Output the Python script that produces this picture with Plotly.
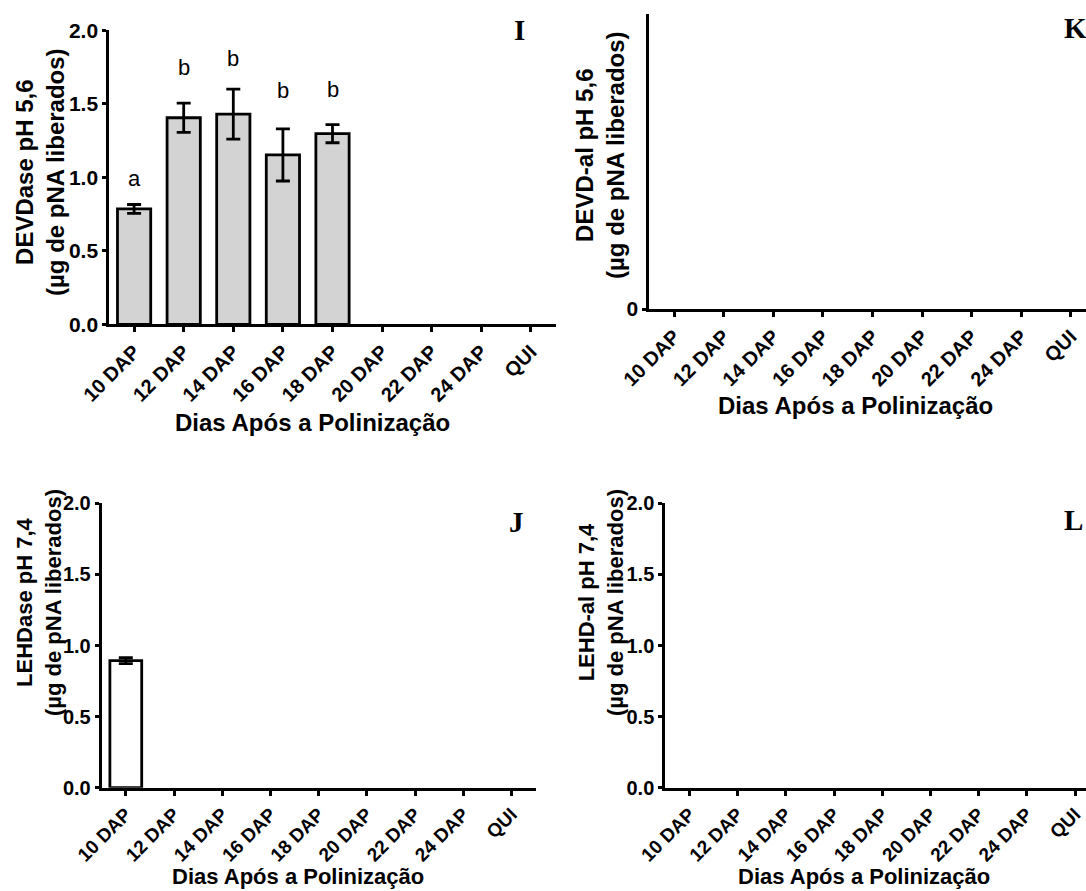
import plotly.graph_objects as go

# ---------------- data ----------------
categories = ["10 DAP", "12 DAP", "14 DAP", "16 DAP", "18 DAP", "20 DAP", "22 DAP", "24 DAP", "QUI"]

devdase_mean = [0.785, 1.405, 1.43, 1.152, 1.297, None, None, None, None]
devdase_sem = [0.03, 0.10, 0.17, 0.177, 0.062, None, None, None, None]
devdase_letters = ["a", "b", "b", "b", "b"]
devdase_letter_y = [0.99, 1.75, 1.81, 1.59, 1.60]

lehdase_mean = [0.893, None, None, None, None, None, None, None, None]
lehdase_sem = [0.021, None, None, None, None, None, None, None, None]

y_ticks_ab = [0.0, 0.5, 1.0, 1.5, 2.0]
y_ticks_k = [0]

panel_letters = ["I", "K", "J", "L"]
ytitles = ["DEVDase pH 5,6<br>(µg de pNA liberados)",
           "DEVD-al pH 5,6<br>(µg de pNA liberados)",
           "LEHDase pH 7,4<br>(µg de pNA liberados)",
           "LEHD-al pH 7,4<br>(µg de pNA liberados)"]
xtitle = "Dias Após a Polinização"

# ---------------- layout helpers ----------------
W, H = 1086, 891
def fx(p):
    return p / W
def fy(p):
    return 1 - p / H

idx = list(range(len(categories)))
FONT = "Arial, Liberation Sans, sans-serif"
SERIF = "Times New Roman, Liberation Serif, serif"

fig = go.Figure()

# Panel I bars
fig.add_trace(go.Bar(
    x=idx, y=devdase_mean, width=0.67,
    marker=dict(color="#d3d3d3", line=dict(color="black", width=2.8)),
    error_y=dict(type="data", array=devdase_sem, color="black", thickness=2.8, width=7),
    xaxis="x", yaxis="y", showlegend=False, hoverinfo="skip"))

# Panel J bars
fig.add_trace(go.Bar(
    x=idx, y=lehdase_mean, width=0.66,
    marker=dict(color="white", line=dict(color="black", width=2.8)),
    error_y=dict(type="data", array=lehdase_sem, color="black", thickness=2.8, width=7),
    xaxis="x3", yaxis="y3", showlegend=False, hoverinfo="skip"))

# invisible traces to anchor panels K and L
fig.add_trace(go.Scatter(x=[None], y=[None], xaxis="x2", yaxis="y2", showlegend=False))
fig.add_trace(go.Scatter(x=[None], y=[None], xaxis="x4", yaxis="y4", showlegend=False))

def xax(domain, rng, size, anchor):
    return dict(domain=domain, range=rng, tickvals=idx, ticktext=categories,
                tickangle=-45, ticks="outside", ticklen=5, tickwidth=2.5, tickcolor="black",
                showline=True, linecolor="black", linewidth=3, showgrid=False, zeroline=False,
                tickfont=dict(family=FONT, size=size, color="black", weight="bold"),
                anchor=anchor, automargin=False, fixedrange=True)

def yax(domain, rng, vals, text, size, anchor):
    return dict(domain=domain, range=rng, tickvals=vals, ticktext=text,
                ticks="outside", ticklen=4, tickwidth=2.5, tickcolor="black",
                showline=True, linecolor="black", linewidth=3, showgrid=False, zeroline=False,
                tickfont=dict(family=FONT, size=size, color="black", weight="bold"),
                anchor=anchor, automargin=False, fixedrange=True)

ab_text = [f"{v:.1f}" for v in y_ticks_ab]

fig.update_layout(
    template="none",
    width=W, height=H, margin=dict(l=0, r=0, t=0, b=0, pad=0, autoexpand=False),
    paper_bgcolor="white", plot_bgcolor="white", showlegend=False,
    xaxis=xax([fx(109.3), fx(555.7)], [-0.5, 8.5], 20, "y"),
    yaxis=yax([fy(324.3), fy(30.3)], [0, 2], y_ticks_ab, ab_text, 21, "x"),
    xaxis2=xax([fx(649.3), 1.0], [-0.5, -0.5 + (W - 649.3) / 49.6], 20, "y2"),
    yaxis2=yax([fy(309), fy(14)], [0, 1], y_ticks_k, ["0"], 21, "x2"),
    xaxis3=xax([fx(101.7), fx(535.5)], [-0.5, 8.5], 19, "y3"),
    yaxis3=yax([fy(787.7), fy(503.3)], [0, 2], y_ticks_ab, ab_text, 20, "x3"),
    xaxis4=xax([fx(665.3), 1.0], [-0.5, -0.5 + (W - 665.3) / 48.2], 19, "y4"),
    yaxis4=yax([fy(787.7), fy(503.3)], [0, 2], y_ticks_ab, ab_text, 20, "x4"),
)

ann = []
# significance letters
for i, (t, yv) in enumerate(zip(devdase_letters, devdase_letter_y)):
    ann.append(dict(x=i, y=yv, xref="x", yref="y", text=t, showarrow=False,
                    font=dict(family=FONT, size=22, color="black"),
                    xanchor="center", yanchor="middle"))

# panel letters
letter_pos = [(519, 30), (1075, 28), (516, 522), (1073, 520)]
for t, (px_, py_) in zip(panel_letters, letter_pos):
    ann.append(dict(x=fx(px_), y=fy(py_), xref="paper", yref="paper", text=t, showarrow=False,
                    font=dict(family=SERIF, size=29, color="black", weight="bold"),
                    xanchor="center", yanchor="middle"))

# y titles
ytitle_pos = [(40, 172, 24), (600, 155, 24), (39, 603, 22), (601, 603, 22)]
for t, (px_, py_, s) in zip(ytitles, ytitle_pos):
    ann.append(dict(x=fx(px_), y=fy(py_), xref="paper", yref="paper", text=t, showarrow=False,
                    textangle=-90, font=dict(family=FONT, size=s, color="black", weight="bold"),
                    xanchor="center", yanchor="middle"))

# x titles
xtitle_pos = [(312, 422, 24), (855, 405, 24), (298, 876, 22), (864, 876, 22)]
for px_, py_, s in xtitle_pos:
    ann.append(dict(x=fx(px_), y=fy(py_), xref="paper", yref="paper", text=xtitle, showarrow=False,
                    font=dict(family=FONT, size=s, color="black", weight="bold"),
                    xanchor="center", yanchor="middle"))

fig.update_layout(annotations=ann)
fig.write_html("out.html", config={"displayModeBar": False},
               post_script="document.body.style.margin='0px';")
